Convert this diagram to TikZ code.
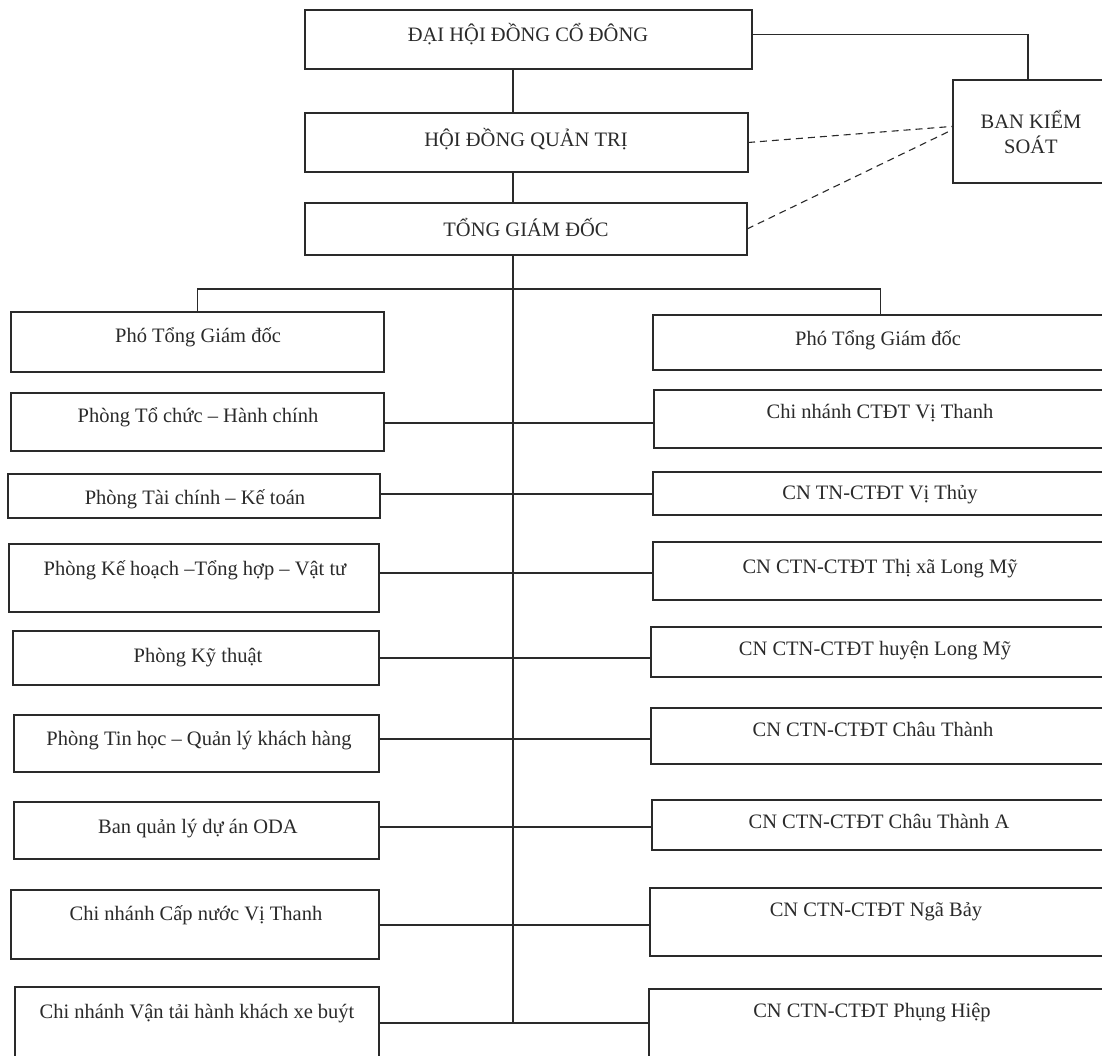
\documentclass[tikz,border=0pt]{standalone}
\usepackage{fontspec}
\setmainfont{Liberation Serif}
\usetikzlibrary{calc}
\definecolor{ink}{HTML}{2A2A2A}
\tikzset{
  orgbox/.style={draw=ink, line width=1.1pt, rectangle, inner sep=0pt, outer sep=0pt},
  lbl/.style={text=ink, inner sep=0pt, text height=13.5pt, text depth=0pt, anchor=center,
              font=\fontsize{20.5}{24}\selectfont},
  link/.style={draw=ink, line width=1.1pt},
  dlink/.style={link, dash pattern=on 7pt off 5pt},
}
\newcommand\orgnode[5]{%
  \node[orgbox, minimum width={(#4-#2)*1pt}, minimum height={(#5-#3)*1pt}]
    (#1) at ({(#2+#4)/2},{(#3+#5)/2}) {};}
\begin{document}
\begin{tikzpicture}[x=1pt,y=-1pt]
\fill[white] (0,0) rectangle (1102,1055);
\clip (0,0) rectangle (1102,1055);

% top boxes
\orgnode{dh}{305}{10}{752}{69}
\orgnode{hq}{305}{113}{748}{172}
\orgnode{tg}{305}{203}{747}{255}
\orgnode{bks}{953}{80}{1103}{183}
\node[lbl] (tdh) at (528,35) {ĐẠI HỘI ĐỒNG CỔ ĐÔNG};
\node[lbl] (thq) at (526,140) {HỘI ĐỒNG QUẢN TRỊ};
\node[lbl] (ttg) at (526,230) {TỔNG GIÁM ĐỐC};
\node[lbl] (tbks1) at (1031,122) {BAN KIỂM};
\node[lbl] (tbks2) at (1031,147) {SOÁT};

% left column
\orgnode{pl}{11}{312}{384}{372}
\orgnode{l1}{11}{393}{384}{451}
\orgnode{l2}{8}{474}{380}{518}
\orgnode{l3}{9}{544}{379}{612}
\orgnode{l4}{13}{631}{379}{685}
\orgnode{l5}{14}{715}{379}{772}
\orgnode{l6}{14}{802}{379}{859}
\orgnode{l7}{11}{890}{379}{959}
\orgnode{l8}{15}{987}{379}{1075}
\node[lbl] (tpl) at (198,336) {Phó Tổng Giám đốc};
\node[lbl] (tl1) at (198,416) {Phòng Tổ chức – Hành chính};
\node[lbl] (tl2) at (195,498) {Phòng Tài chính – Kế toán};
\node[lbl] (tl3) at (195,569) {Phòng Kế hoạch –Tổng hợp – Vật tư};
\node[lbl] (tl4) at (198,656) {Phòng Kỹ thuật};
\node[lbl] (tl5) at (199,739) {Phòng Tin học – Quản lý khách hàng};
\node[lbl] (tl6) at (198,827) {Ban quản lý dự án ODA};
\node[lbl] (tl7) at (196,914) {Chi nhánh Cấp nước Vị Thanh};
\node[lbl] (tl8) at (197,1012) {Chi nhánh Vận tải hành khách xe buýt};

% right column
\orgnode{pr}{653}{315}{1108}{370}
\orgnode{r1}{654}{390}{1108}{448}
\orgnode{r2}{653}{472}{1108}{515}
\orgnode{r3}{653}{542}{1108}{600}
\orgnode{r4}{651}{627}{1108}{677}
\orgnode{r5}{651}{708}{1108}{764}
\orgnode{r6}{652}{800}{1108}{850}
\orgnode{r7}{650}{888}{1108}{956}
\orgnode{r8}{649}{989}{1108}{1075}
\node[lbl] (tpr) at (878,339) {Phó Tổng Giám đốc};
\node[lbl] (tr1) at (880,412) {Chi nhánh CTĐT Vị Thanh};
\node[lbl] (tr2) at (880,493) {CN TN-CTĐT Vị Thủy};
\node[lbl] (tr3) at (880,567) {CN CTN-CTĐT Thị xã Long Mỹ};
\node[lbl] (tr4) at (875,649) {CN CTN-CTĐT huyện Long Mỹ};
\node[lbl] (tr5) at (873,730) {CN CTN-CTĐT Châu Thành};
\node[lbl] (tr6) at (879,822) {CN CTN-CTĐT Châu Thành A};
\node[lbl] (tr7) at (876,910) {CN CTN-CTĐT Ngã Bảy};
\node[lbl] (tr8) at (872,1011) {CN CTN-CTĐT Phụng Hiệp};

% spine coordinates
\coordinate (sp) at (513,0);
\coordinate (br) at (513,289);
\coordinate (j1) at (513,423);
\coordinate (j2) at (513,494);
\coordinate (j3) at (513,573);
\coordinate (j4) at (513,658);
\coordinate (j5) at (513,739);
\coordinate (j6) at (513,827);
\coordinate (j7) at (513,925);
\coordinate (j8) at (513,1023);

% connectors
\draw[link] ($(dh.north east)!0.41!(dh.south east)$) -| (bks.north);
\draw[link] (dh.south -| sp) -- (hq.north -| sp);
\draw[link] (hq.south -| sp) -- (tg.north -| sp);
\draw[link] (tg.south -| sp) -- (j8);
\draw[link] (pl.north) |- (br) -| (pr.north);
\foreach \i in {1,...,8}{
  \draw[link] (l\i.east |- j\i) -- (r\i.west |- j\i);
}
\draw[dlink] (hq.east) -- ($(bks.north west)!0.45!(bks.south west)$);
\draw[dlink] (tg.east) -- ($(bks.north west)!0.48!(bks.south west)$);
\end{tikzpicture}
\end{document}
